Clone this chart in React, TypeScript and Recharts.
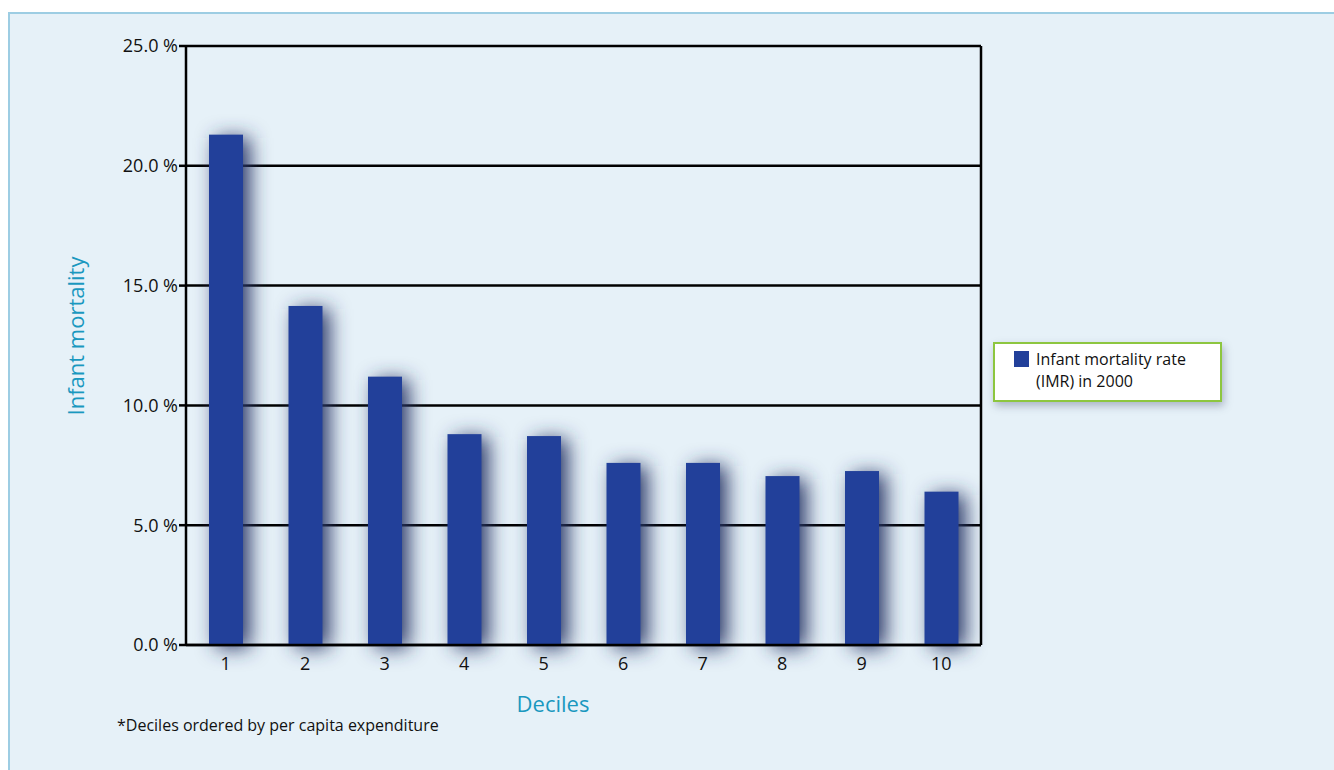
import React from 'react';
import { BarChart, Bar, XAxis, YAxis, CartesianGrid } from 'recharts';

const DECILES = ['1', '2', '3', '4', '5', '6', '7', '8', '9', '10'];
const IMR_2000 = [21.3, 14.15, 11.2, 8.8, 8.72, 7.6, 7.6, 7.05, 7.26, 6.4];
const Y_TICKS = [0, 5, 10, 15, 20, 25];

const data = DECILES.map((d, i) => ({ decile: d, imr: IMR_2000[i] }));

const FONT = '"Open Sans", "DejaVu Sans", sans-serif';
const BAR_COLOR = '#22409a';
const TEAL = '#1a98bf';

const ShadowBar = (props: { x?: number; y?: number; width?: number; height?: number; fill?: string }) => {
  const { x = 0, y = 0, width = 0, height = 0, fill } = props;
  return (
    <g>
      <rect x={x} y={y} width={width} height={height} fill="#2a3868" filter="url(#bar-shadow)" />
      <rect x={x} y={y} width={width} height={height} fill={fill} />
    </g>
  );
};

export default function App() {
  return (
    <div style={{ position: 'absolute', left: 0, top: 0, width: 1334, height: 770, background: '#fff', overflow: 'hidden' }}>
      <svg width={0} height={0} style={{ position: 'absolute' }}>
        <defs>
          <filter id="bar-shadow" x="-100%" y="-20%" width="300%" height="140%">
            <feOffset dx={7} dy={3} in="SourceGraphic" result="off" />
            <feGaussianBlur in="off" stdDeviation={10} />
          </filter>
        </defs>
      </svg>
      {/* panel */}
      <div
        style={{
          position: 'absolute',
          left: 8,
          top: 12,
          width: 1326,
          height: 758,
          background: '#e6f1f8',
          borderLeft: '2px solid #9dcde3',
          borderTop: '2px solid #9dcde3',
          boxSizing: 'border-box',
        }}
      />
      <div style={{ position: 'absolute', left: 0, top: 0 }}>
        <BarChart
          width={1334}
          height={770}
          data={data}
          margin={{ top: 46, right: 352, bottom: 95, left: 106 }}
          barSize={34}
        >
          <CartesianGrid yAxisId="left" horizontal vertical={false} stroke="#000" strokeWidth={2.5} />
          <XAxis
            dataKey="decile"
            tickLine={false}
            tickSize={0}
            tickMargin={12}
            axisLine={{ stroke: '#000', strokeWidth: 2.5 }}
            tick={{ fontSize: 18, fill: '#111', fontFamily: FONT }}
            height={30}
          />
          <YAxis
            yAxisId="left"
            domain={[0, 25]}
            ticks={Y_TICKS}
            width={80}
            tickSize={7}
            tickMargin={1}
            tickLine={{ stroke: '#000', strokeWidth: 2.5 }}
            axisLine={{ stroke: '#000', strokeWidth: 2.5 }}
            tickFormatter={(v: number) => `${v.toFixed(1)} %`}
            tick={{ fontSize: 18, fill: '#111', fontFamily: FONT }}
          />
          <YAxis
            yAxisId="right"
            orientation="right"
            domain={[0, 25]}
            width={1}
            tick={false}
            tickLine={false}
            axisLine={{ stroke: '#000', strokeWidth: 2.5 }}
          />
          <Bar
            yAxisId="left"
            dataKey="imr"
            name="Infant mortality rate (IMR) in 2000"
            fill={BAR_COLOR}
            shape={<ShadowBar />}
            isAnimationActive={false}
          />
        </BarChart>
      </div>
      {/* legend */}
      <div
        style={{
          position: 'absolute',
          left: 993,
          top: 342,
          width: 229,
          height: 60,
          boxSizing: 'border-box',
          background: '#fff',
          border: '2px solid #8dc63f',
          boxShadow: '2px 4px 8px rgba(60,70,100,0.35)',
          fontFamily: FONT,
          fontSize: 16,
          color: '#111',
          lineHeight: '22px',
        }}
      >
        <div style={{ position: 'absolute', left: 19, top: 7, width: 15, height: 16, background: BAR_COLOR }} />
        <div style={{ position: 'absolute', left: 41, top: 4, whiteSpace: 'nowrap' }}>
          Infant mortality rate
          <br />
          (IMR) in 2000
        </div>
      </div>
      <div
        style={{
          position: 'absolute',
          left: 75,
          top: 336,
          transform: 'translate(-50%, -50%) rotate(-90deg)',
          fontFamily: FONT,
          fontSize: 22,
          color: TEAL,
          whiteSpace: 'nowrap',
        }}
      >
        Infant mortality
      </div>
      <div
        style={{
          position: 'absolute',
          left: 553,
          top: 703,
          transform: 'translate(-50%, -50%)',
          fontFamily: FONT,
          fontSize: 22,
          color: TEAL,
          whiteSpace: 'nowrap',
        }}
      >
        Deciles
      </div>
      <div
        style={{
          position: 'absolute',
          left: 117,
          top: 714,
          fontFamily: FONT,
          fontSize: 16,
          color: '#111',
          whiteSpace: 'nowrap',
        }}
      >
        *Deciles ordered by per capita expenditure
      </div>
    </div>
  );
}
